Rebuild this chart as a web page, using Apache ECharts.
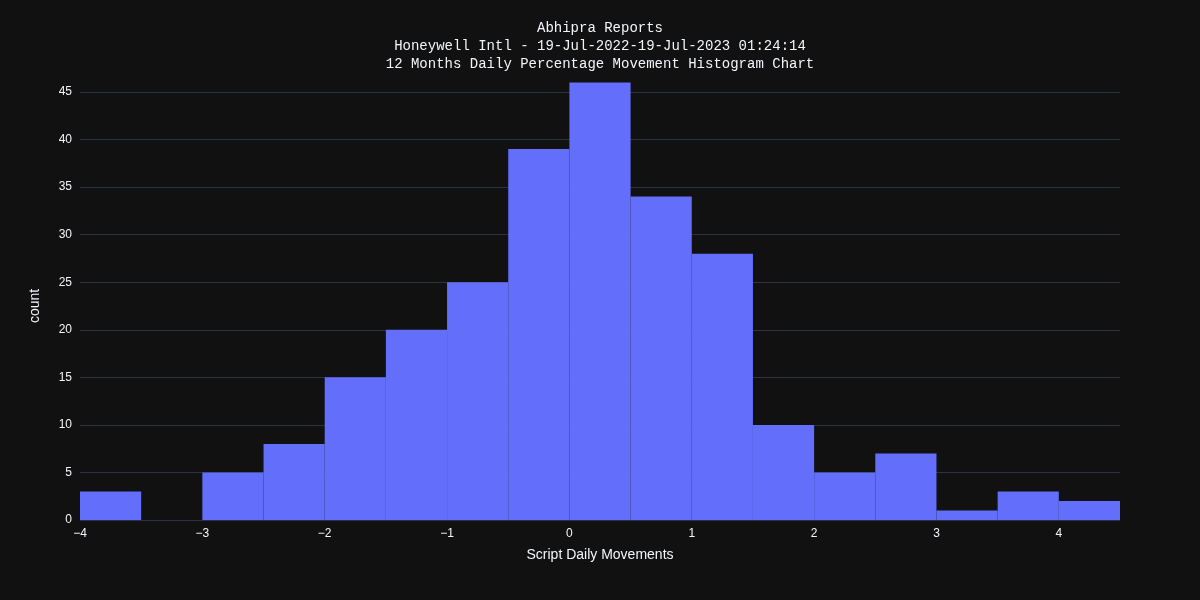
<!DOCTYPE html>
<html><head><meta charset="utf-8">
<script src="https://cdn.jsdelivr.net/npm/echarts@6/dist/echarts.min.js"></script>
<style>html,body{margin:0;background:#111111}#c{width:1200px;height:600px}</style>
</head><body><div id="c"></div>
<script>
const binStarts = [-4,-3.5,-3,-2.5,-2,-1.5,-1,-0.5,0,0.5,1,1.5,2,2.5,3,3.5,4];
const binWidth = 0.5;
const counts = [3,0,5,8,15,20,25,39,46,34,28,10,5,7,1,3,2];
const titleLines = ['Abhipra Reports','Honeywell Intl - 19-Jul-2022-19-Jul-2023 01:24:14','12 Months Daily Percentage Movement Histogram Chart'];

const chart = echarts.init(document.getElementById('c'));
chart.setOption({
  backgroundColor:'#111111',
  animation:false,
  title:{text:titleLines.join('\n'),left:'center',top:14,
    textStyle:{color:'#f2f5fa',fontFamily:'Liberation Mono, DejaVu Sans Mono, monospace',fontSize:14,fontWeight:'normal',lineHeight:18}},
  grid:{left:80,right:80,top:92,bottom:80},
  xAxis:{type:'value',min:-4,max:4.5,interval:1,name:'Script Daily Movements',nameLocation:'middle',nameGap:28,
    nameTextStyle:{color:'#f2f5fa',fontSize:14,fontFamily:'Arial, Liberation Sans'},
    axisLine:{show:false},axisTick:{show:false},splitLine:{show:false},
    axisLabel:{color:'#f2f5fa',fontSize:12,showMaxLabel:false,fontFamily:'Arial, Liberation Sans',
      formatter:v=>String(v).replace('-','\u2212')}},
  yAxis:{type:'value',min:0,max:45,interval:5,name:'count',nameLocation:'middle',nameGap:38,
    nameTextStyle:{color:'#f2f5fa',fontSize:14,fontFamily:'Arial, Liberation Sans'},
    axisLine:{show:false},axisTick:{show:false},
    splitLine:{lineStyle:{color:'#283442',width:1}},
    axisLabel:{color:'#f2f5fa',fontSize:12,fontFamily:'Arial, Liberation Sans'}},
  series:[{type:'custom',clip:false,
    data:binStarts.map((s,i)=>[s,s+binWidth,counts[i]]),
    encode:{x:[0,1],y:2},
    renderItem:(params,api)=>{
      const p0=api.coord([api.value(0),api.value(2)]);
      const p1=api.coord([api.value(1),0]);
      return {type:'rect',shape:{x:p0[0],y:p0[1],width:p1[0]-p0[0],height:p1[1]-p0[1]},
        style:{fill:'#636efa',stroke:'#111111',lineWidth:0}};
    }}]
});
</script></body></html>
